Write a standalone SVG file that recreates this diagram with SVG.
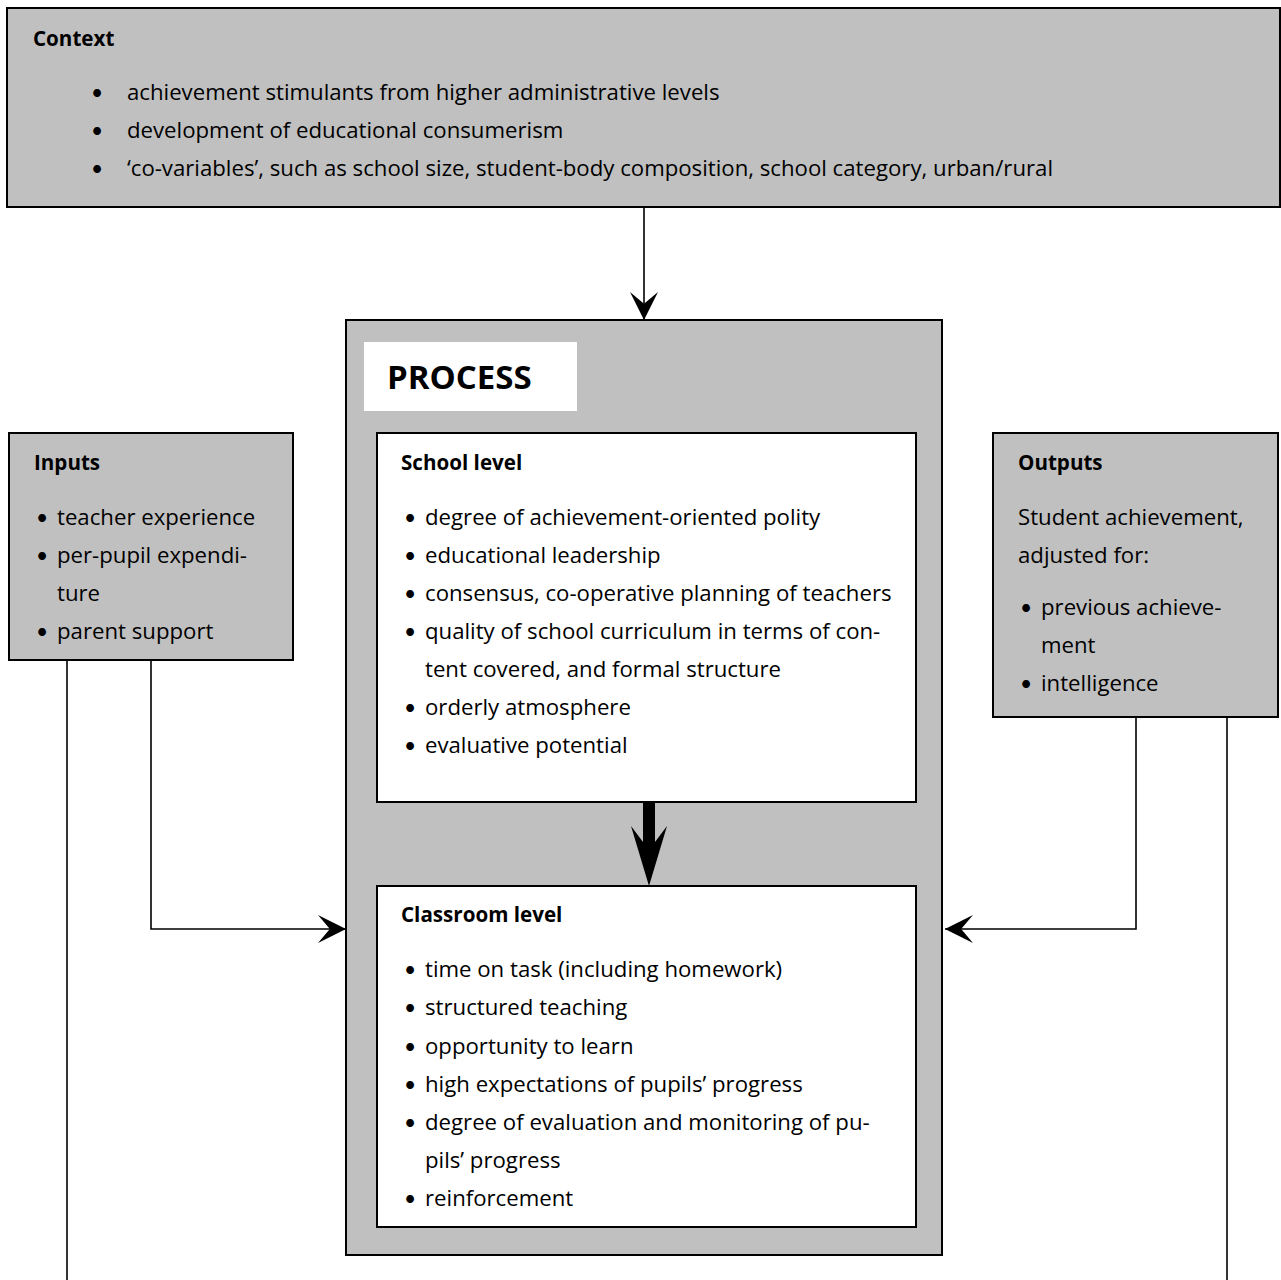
<svg xmlns="http://www.w3.org/2000/svg" width="1281" height="1280" viewBox="0 0 1281 1280">
<style>
.box{fill:#c0c0c0;stroke:#000;stroke-width:2}
.wbox{fill:#fff;stroke:#000;stroke-width:2}
text{font-family:"Open Sans",Lato,"Liberation Sans",sans-serif;font-size:22.2px;fill:#000}
.t{font-weight:bold;font-size:20.6px}
.big{font-weight:bold;font-size:33px}
.b{font-family:Lato,"Open Sans",sans-serif;font-size:21px}
.ln{fill:none;stroke:#000;stroke-width:1.6}
</style>
<defs>
<marker id="ah" markerUnits="userSpaceOnUse" markerWidth="28" markerHeight="28" refX="26" refY="13" orient="auto" viewBox="0 0 26 26">
<path d="M0,0 L26,13 L0,26 L11,13 Z" fill="#000"/>
</marker>
</defs>
<rect width="1281" height="1280" fill="#fff"/>

<g id="context">
<rect class="box" x="7" y="8" width="1273" height="199"/>
<text class="t" x="33" y="46">Context</text>
<text class="b" x="91" y="100">•</text>
<text x="127" y="100">achievement stimulants from higher administrative levels</text>
<text class="b" x="91" y="138">•</text>
<text x="127" y="138">development of educational consumerism</text>
<text class="b" x="91" y="176">•</text>
<text x="127" y="176">‘co-variables’, such as school size, student-body composition, school category, urban/rural</text>
</g>

<g id="process">
<rect class="box" x="346" y="320" width="596" height="935"/>
<rect x="364" y="342" width="213" height="69" fill="#fff"/>
<text class="big" x="387" y="389">PROCESS</text>
</g>

<g id="school-level">
<rect class="wbox" x="377" y="433" width="539" height="369"/>
<text class="t" x="401" y="470">School level</text>
<text class="b" x="404" y="525">•</text><text x="425" y="525">degree of achievement-oriented polity</text>
<text class="b" x="404" y="563">•</text><text x="425" y="563">educational leadership</text>
<text class="b" x="404" y="601">•</text><text x="425" y="601">consensus, co-operative planning of teachers</text>
<text class="b" x="404" y="639">•</text><text x="425" y="639">quality of school curriculum in terms of con-</text>
<text x="425" y="677">tent covered, and formal structure</text>
<text class="b" x="404" y="715">•</text><text x="425" y="715">orderly atmosphere</text>
<text class="b" x="404" y="753">•</text><text x="425" y="753">evaluative potential</text>
</g>

<g id="classroom-level">
<rect class="wbox" x="377" y="886" width="539" height="341"/>
<text class="t" x="401" y="922">Classroom level</text>
<text class="b" x="404" y="977">•</text><text x="425" y="977">time on task (including homework)</text>
<text class="b" x="404" y="1015">•</text><text x="425" y="1015">structured teaching</text>
<text class="b" x="404" y="1054">•</text><text x="425" y="1054">opportunity to learn</text>
<text class="b" x="404" y="1092">•</text><text x="425" y="1092">high expectations of pupils’ progress</text>
<text class="b" x="404" y="1130">•</text><text x="425" y="1130">degree of evaluation and monitoring of pu-</text>
<text x="425" y="1168">pils’ progress</text>
<text class="b" x="404" y="1206">•</text><text x="425" y="1206">reinforcement</text>
</g>

<g id="inputs">
<rect class="box" x="9" y="433" width="284" height="227"/>
<text class="t" x="34" y="470">Inputs</text>
<text class="b" x="36" y="525">•</text><text x="57" y="525">teacher experience</text>
<text class="b" x="36" y="563">•</text><text x="57" y="563">per-pupil expendi-</text>
<text x="57" y="601">ture</text>
<text class="b" x="36" y="639">•</text><text x="57" y="639">parent support</text>
</g>

<g id="outputs">
<rect class="box" x="993" y="433" width="285" height="284"/>
<text class="t" x="1018" y="470">Outputs</text>
<text x="1018" y="525">Student achievement,</text>
<text x="1018" y="563">adjusted for:</text>
<text class="b" x="1020" y="615">•</text><text x="1041" y="615">previous achieve-</text>
<text x="1041" y="653">ment</text>
<text class="b" x="1020" y="691">•</text><text x="1041" y="691">intelligence</text>
</g>

<g id="connectors">
<line class="ln" x1="644" y1="207" x2="644" y2="320" marker-end="url(#ah)"/>
<polyline class="ln" points="151,660 151,929 346,929" marker-end="url(#ah)"/>
<line class="ln" x1="67" y1="660" x2="67" y2="1280"/>
<polyline class="ln" points="1136,717 1136,929 945,929" marker-end="url(#ah)"/>
<line class="ln" x1="1227" y1="717" x2="1227" y2="1280"/>
<path d="M643,803 H655 V842 L667,826 L649,886 L631,826 L643,842 Z" fill="#000"/>
</g>
</svg>
